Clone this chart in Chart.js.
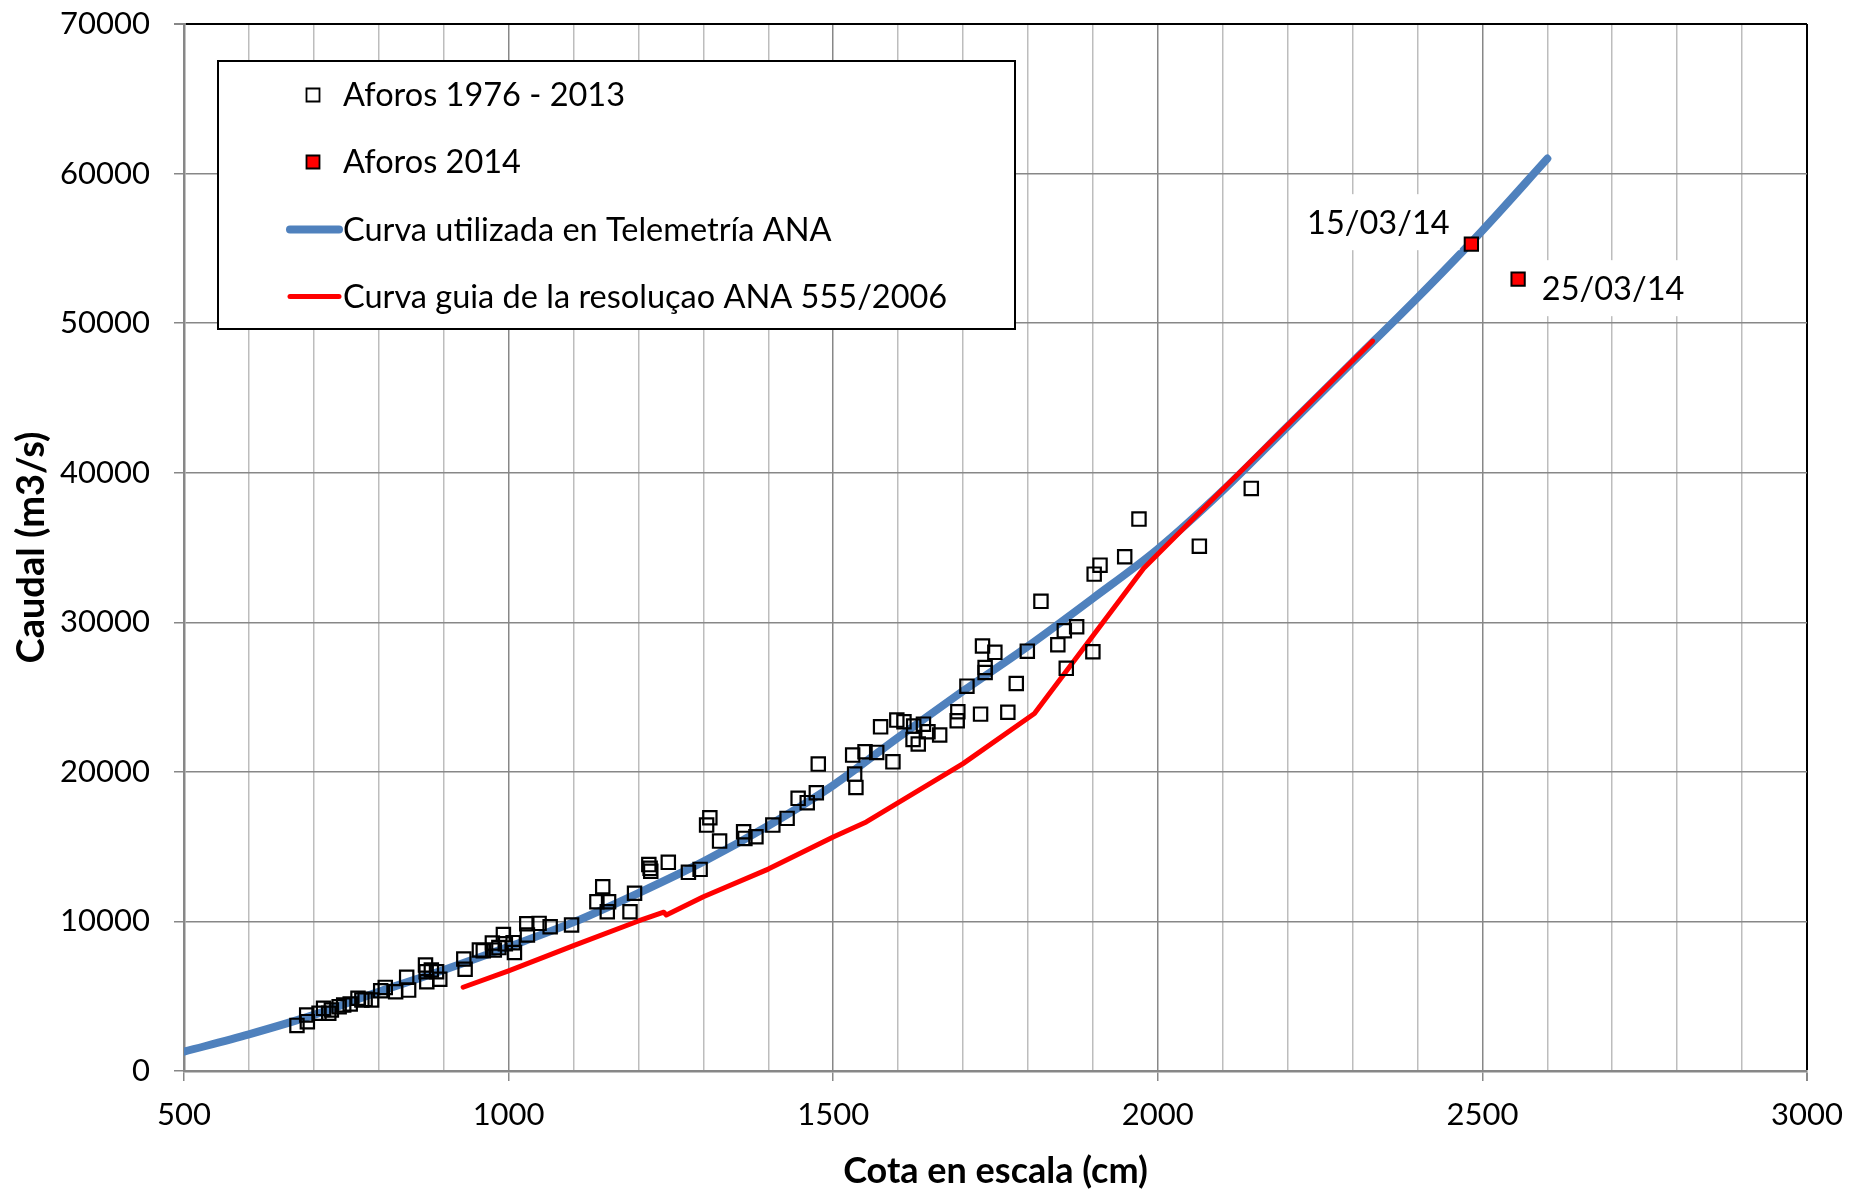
<!DOCTYPE html>
<html><head><meta charset="utf-8">
<script src="https://cdn.jsdelivr.net/npm/chart.js@4.4.1/dist/chart.umd.min.js"></script>
<style>html,body{margin:0;padding:0;background:#fff}#wrap{width:1850px;height:1190px}</style>
</head><body><div id="wrap"><canvas id="c" width="1850" height="1190"></canvas></div>
<script>
// ---- data ----
const aforosX = [674,689,690,708,715,723,727,739,746,756,768,774,779,789,803,810,826,843,846,872,873,874,881,889,894,931,933,955,961,975,978,985,992,995,1007,1009,1028,1029,1047,1064,1097,1136,1145,1154,1152,1187,1194,1216,1218,1219,1246,1277,1295,1305,1310,1325,1362,1364,1381,1407,1429,1446,1460,1474,1477,1530,1533,1535,1549,1567,1573,1592,1598,1609,1624,1623,1631,1639,1646,1664,1692,1691,1706,1727,1734,1734,1730,1749,1769,1782,1799,1820,1846,1856,1859,1875,1900,1902,1911,1949,1971,2064,2144];
const aforosY = [3050,3740,3300,3860,4190,3860,4080,4300,4410,4480,4860,4750,4790,4750,5370,5590,5300,6260,5410,7085,6640,5970,6750,6640,6130,7490,6800,8090,8040,8560,8090,8250,9120,8500,8580,7920,9850,9090,9870,9650,9760,11320,12320,11320,10650,10650,11880,13800,13550,13350,13950,13280,13480,16440,16930,15370,16000,15550,15660,16440,16890,18230,17940,18600,20520,21120,19850,18960,21340,21300,23010,20670,23460,23350,23060,22170,21860,23190,22680,22460,24020,23420,25730,23860,26980,26640,28410,27990,23980,25910,28070,31400,28500,29430,26920,29700,28030,33220,33820,34380,36900,35090,38950];
const aforos2014X = [2483, 2555];
const aforos2014Y = [55280, 52940];
const aforos2014Labels = ['15/03/14', '25/03/14'];
const curvaAnaX = [500,600,700,800,900,1000,1100,1200,1300,1400,1500,1600,1700,1800,1900,2000,2100,2200,2300,2400,2500,2600];
const curvaAnaY = [1290,2450,3750,5300,6750,8300,9950,11900,14000,16400,19100,22300,25400,28400,31600,34900,38800,43100,47400,51700,56200,61000];
const curvaGuiaX = [930,1000,1100,1200,1239,1243,1300,1400,1500,1551,1700,1810,1978,2086,2331];
const curvaGuiaY = [5600,6700,8380,10030,10620,10430,11650,13500,15650,16650,20550,23900,33600,38300,48800];
const seriesNames = ['Aforos 1976 - 2013','Aforos 2014','Curva utilizada en Telemetría ANA','Curva guia de la resoluçao ANA 555/2006'];
const xTickLabels = ['500','1000','1500','2000','2500','3000'];
const yTickLabels = ['0','10000','20000','30000','40000','50000','60000','70000'];
const xTitle = 'Cota en escala (cm)';
const yTitle = 'Caudal (m3/s)';

const pts = (xs, ys) => xs.map((x, i) => ({x, y: ys[i]}));
const FONT = 'Lato';
const FS = 31;
const LFS = 32.5;
const BLUE = '#4F81BD', RED = '#FF0000';

const legendPlugin = {
  id: 'boxLegend',
  afterDraw(chart) {
    const ctx = chart.ctx;
    ctx.save();
    ctx.fillStyle = '#fff';
    ctx.fillRect(218, 61, 797, 268);
    ctx.lineWidth = 2;
    ctx.strokeStyle = '#000';
    ctx.strokeRect(218, 61, 797, 268);
    const rows = [95, 162, 229.5, 296.5];
    chart.data.datasets.forEach((ds, i) => {
      const y = rows[i];
      if (ds.showLine) {
        ctx.beginPath();
        ctx.lineCap = 'round';
        ctx.lineWidth = ds.borderWidth;
        ctx.strokeStyle = ds.borderColor;
        ctx.moveTo(290, y); ctx.lineTo(339, y);
        ctx.stroke();
      } else {
        ctx.beginPath();
        ctx.rect(313 - 6.5, y - 6.5, 13, 13);
        ctx.fillStyle = ds.legendFill;
        ctx.fill();
        ctx.lineWidth = 1.8;
        ctx.strokeStyle = '#000';
        ctx.stroke();
      }
      ctx.fillStyle = '#000';
      ctx.font = LFS + 'px ' + FONT;
      ctx.textAlign = 'left';
      ctx.textBaseline = 'middle';
      ctx.fillText(ds.label, 343, y + 1);
    });
    ctx.restore();
  }
};

const labelPlugin = {
  id: 'pointLabels',
  afterDatasetsDraw(chart) {
    const ctx = chart.ctx;
    const meta = chart.getDatasetMeta(1);
    const offs = [[-93, -22], [95, 9]];
    ctx.save();
    ctx.font = LFS + 'px ' + FONT;
    ctx.textAlign = 'center';
    ctx.textBaseline = 'middle';
    meta.data.forEach((el, i) => {
      const cx = el.x + offs[i][0], cy = el.y + offs[i][1];
      const w = ctx.measureText(aforos2014Labels[i]).width + 20;
      ctx.fillStyle = '#fff';
      ctx.fillRect(cx - w / 2, cy - 28, w, 56);
      ctx.fillStyle = '#000';
      ctx.fillText(aforos2014Labels[i], cx, cy + 1);
    });
    ctx.restore();
  }
};

Chart.defaults.font.family = FONT;
Chart.defaults.font.size = FS;
Chart.defaults.color = '#000';

new Chart(document.getElementById('c'), {
  type: 'scatter',
  data: {
    datasets: [
      { label: seriesNames[0], data: pts(aforosX, aforosY), pointStyle: 'rect', pointRadius: 9.4,
        pointBackgroundColor: 'rgba(0,0,0,0)', pointBorderColor: '#000', pointBorderWidth: 2.2,
        legendFill: '#fff', showLine: false, order: 1 },
      { label: seriesNames[1], data: pts(aforos2014X, aforos2014Y), pointStyle: 'rect', pointRadius: 9.4,
        pointBackgroundColor: RED, pointBorderColor: '#000', pointBorderWidth: 2,
        legendFill: RED, showLine: false, order: 0 },
      { label: seriesNames[2], data: pts(curvaAnaX, curvaAnaY), showLine: true, borderColor: BLUE,
        borderWidth: 8, pointRadius: 0, cubicInterpolationMode: 'monotone', borderCapStyle: 'round', order: 3 },
      { label: seriesNames[3], data: pts(curvaGuiaX, curvaGuiaY), showLine: true, borderColor: RED,
        borderWidth: 5, pointRadius: 0, tension: 0, borderCapStyle: 'round', borderJoinStyle: 'round', order: 2 }
    ]
  },
  options: {
    responsive: false,
    animation: false,
    devicePixelRatio: 1,
    layout: { padding: { top: 24, right: 43, left: 0, bottom: 0 } },
    plugins: { legend: { display: false }, tooltip: { enabled: false } },
    scales: {
      x: {
        type: 'linear', min: 500, max: 3000,
        afterFit: s => { s.height = 119; s.paddingLeft = 0; s.paddingRight = 0; },
        ticks: { stepSize: 100, autoSkip: false, maxRotation: 0, padding: 15,
          callback: v => xTickLabels.includes(String(v)) ? String(v) : '' },
        grid: {
          color: c => c.tick && c.tick.value === 3000 ? '#000' : (c.tick && c.tick.value % 500 === 0 ? '#878787' : '#bdbdbd'),
          lineWidth: c => c.tick && c.tick.value === 3000 ? 2 : 1.5,
          tickLength: 10,
          tickColor: c => c.tick && c.tick.value % 500 === 0 ? '#878787' : 'rgba(0,0,0,0)'
        },
        border: { color: '#878787', width: 2.5 },
        title: { display: true, text: xTitle, font: { weight: 'bold', size: 36, lineHeight: 1 }, padding: { top: 0, bottom: 1 } }
      },
      y: {
        min: 0, max: 70000,
        afterFit: s => { s.width = 184; s.paddingTop = 0; s.paddingBottom = 0; },
        ticks: { stepSize: 10000, padding: 24,
          callback: v => yTickLabels.includes(String(v)) ? String(v) : '' },
        grid: {
          color: c => c.tick && c.tick.value === 70000 ? '#000' : '#878787',
          lineWidth: c => c.tick && c.tick.value === 70000 ? 2 : 1.5,
          tickLength: 10,
          tickColor: '#878787'
        },
        border: { color: '#878787', width: 2.5 },
        title: { display: true, text: yTitle, font: { weight: 'bold', size: 38, lineHeight: 1 }, padding: { top: 13, bottom: 0 } }
      }
    }
  },
  plugins: [labelPlugin, legendPlugin]
});
</script></body></html>
